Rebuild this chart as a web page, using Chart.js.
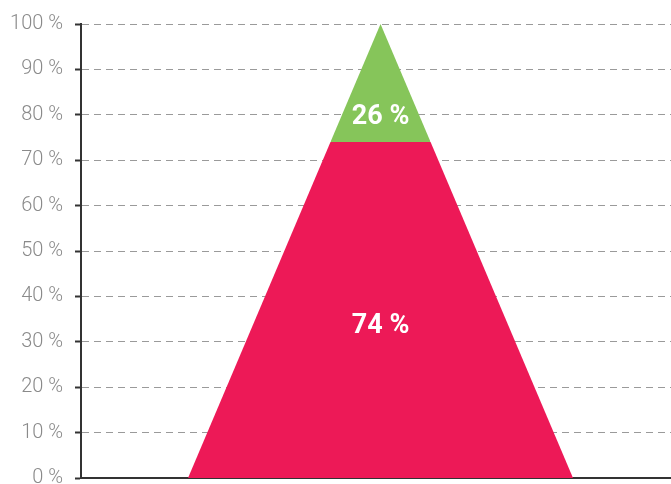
<!DOCTYPE html>
<html>
<head>
<meta charset="utf-8">
<script src="https://cdn.jsdelivr.net/npm/chart.js@4.4.1/dist/chart.umd.min.js"></script>
<style>
  html, body { margin: 0; padding: 0; background: #fff; overflow: hidden; }
  #wrap { position: relative; width: 671px; height: 502px; }
</style>
</head>
<body>
<div id="wrap"><canvas id="pyramid"></canvas></div>
<script>
// shares of the pyramid, bottom to top
var segments = ['Bottom', 'Top'];
var shares = [74, 26];
var segmentColors = ['#ED1957', '#86C55A'];
// where the % labels sit (in %)
var labelAt = [33.5, 79.5];
var yTicks = [0, 10, 20, 30, 40, 50, 60, 70, 80, 90, 100];

// half width of the pyramid at a given height (base = 1)
function halfWidth(v) { return 1 - v / 100; }

var datasets = [];
var start = 0;
for (var i = 0; i < shares.length; i++) {
  var end = start + shares[i];
  var pts = [];
  pts.push({x: -halfWidth(start), y: start});
  if (end >= 100) {
    pts.push({x: 0, y: 100});
  } else {
    pts.push({x: -halfWidth(end), y: end});
    pts.push({x: halfWidth(end), y: end});
  }
  pts.push({x: halfWidth(start), y: start});
  datasets.push({
    label: segments[i],
    data: pts,
    showLine: true,
    fill: {value: start},
    backgroundColor: segmentColors[i],
    borderWidth: 0,
    borderColor: segmentColors[i],
    pointRadius: 0,
    tension: 0
  });
  start = end;
}

var shareLabels = {
  id: 'shareLabels',
  afterDatasetsDraw: function(chart) {
    var ctx = chart.ctx;
    var xs = chart.scales.x, ys = chart.scales.y;
    ctx.save();
    ctx.fillStyle = '#fff';
    ctx.font = 'bold 27px Roboto, "Open Sans", sans-serif';
    ctx.textAlign = 'center';
    ctx.textBaseline = 'middle';
    for (var i = 0; i < shares.length; i++) {
      ctx.fillText(shares[i] + ' %', xs.getPixelForValue(0), ys.getPixelForValue(labelAt[i]));
    }
    ctx.restore();
  }
};

let pyramid = new Chart(document.getElementById('pyramid').getContext('2d'), {
  type: 'scatter',
  data: { datasets: datasets },
  plugins: [shareLabels],
  options: {
    responsive: true,
    maintainAspectRatio: false,
    animation: false,
    layout: { padding: { top: 22, right: 0, bottom: 0, left: 0 } },
    plugins: {
      legend: { display: false },
      tooltip: { enabled: false }
    },
    scales: {
      x: {
        type: 'linear',
        min: -1.556,
        max: 1.509,
        ticks: { display: false },
        grid: { display: false, drawTicks: false },
        border: { display: true, color: '#333', width: 2 }
      },
      y: {
        min: 0,
        max: 100,
        afterBuildTicks: function(axis) {
          axis.ticks = yTicks.map(function(v) { return {value: v}; });
        },
        afterFit: function(axis) { axis.width = 81; },
        ticks: {
          padding: 12,
          color: '#8a8a8a',
          font: { family: 'Roboto', size: 20, weight: 300 },
          callback: function(v) { return v + ' %'; }
        },
        grid: {
          color: '#9a9a9a',
          lineWidth: 1,
          tickLength: 6,
          tickColor: '#333',
          tickWidth: 2,
          tickBorderDash: []
        },
        border: { display: true, color: '#333', width: 2, dash: [7, 5] }
      }
    }
  }
});
</script>
</body>
</html>
